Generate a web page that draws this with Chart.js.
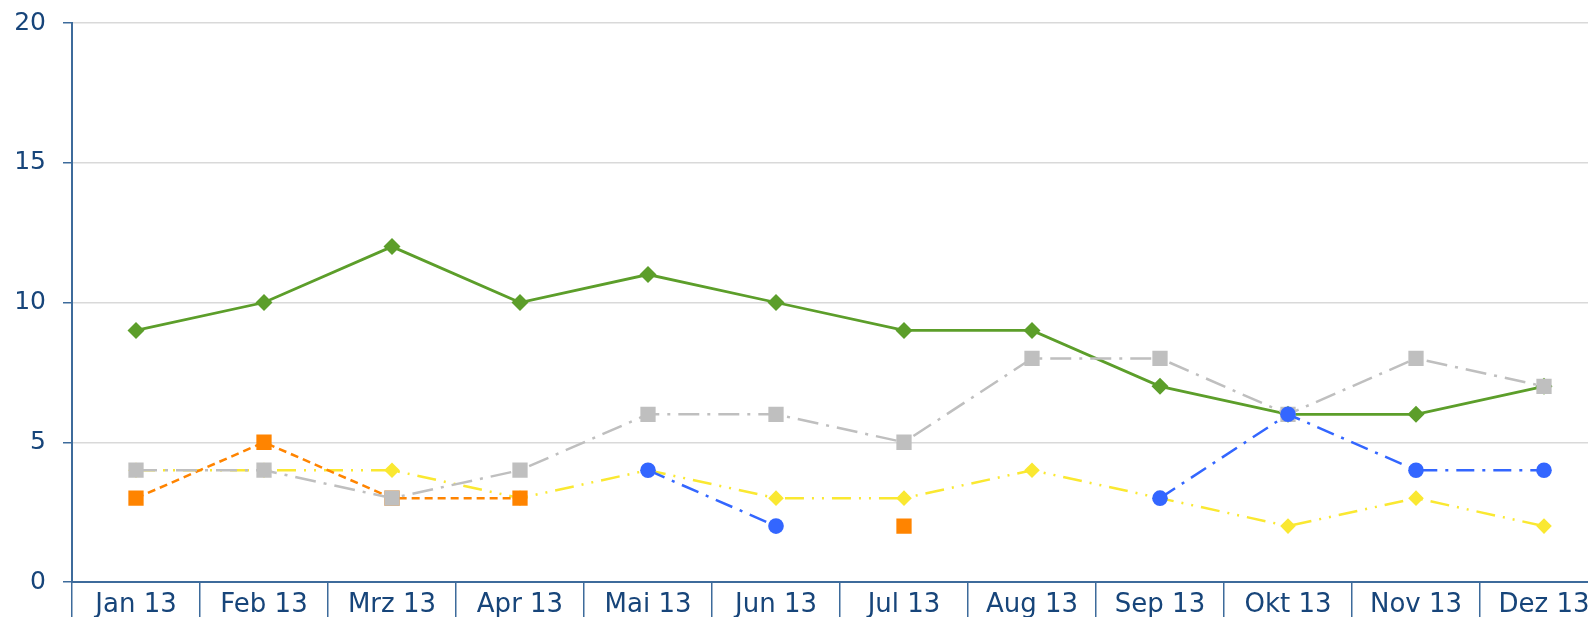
<!DOCTYPE html>
<html>
<head>
<meta charset="utf-8">
<script src="https://cdn.jsdelivr.net/npm/chart.js"></script>
<style>
  html, body { margin: 0; padding: 0; overflow: hidden; background: #fff; }
  #wrap { position: absolute; left: 0; top: 0; width: 1620px; height: 640px; }
</style>
</head>
<body>
<div id="wrap"><canvas id="lineChart"></canvas></div>
<script>
/** Daten */
let monate = ["Jan 13", "Feb 13", "Mrz 13", "Apr 13", "Mai 13", "Jun 13", "Jul 13", "Aug 13", "Sep 13", "Okt 13", "Nov 13", "Dez 13"]
let reihe_gruen = [9, 10, 12, 10, 11, 10, 9, 9, 7, 6, 6, 7]
let reihe_grau = [4, 4, 3, 4, 6, 6, 5, 8, 8, 6, 8, 7]
let reihe_gelb = [4, 4, 4, 3, 4, 3, 3, 4, 3, 2, 3, 2]
let reihe_orange = [3, 5, 3, 3, null, null, 2, null, null, null, null, null]
let reihe_blau = [null, null, null, null, 4, 2, null, null, 3, 6, 4, 4]
let y_ticks = [0, 5, 10, 15, 20]

let achse = "#3d6b9b"
let schrift = "#17457a"

/** Diagramm */
var ctx = document.getElementById("lineChart").getContext('2d');
var lineChart = new Chart(ctx, {
  type: 'line',
  data: {
    labels: monate,
    datasets: [{
      data: reihe_blau,
      borderColor: "#3366ff",
      backgroundColor: "#3366ff",
      borderWidth: 2.5,
      borderDash: [18, 8, 3, 8],
      pointStyle: 'circle',
      pointRadius: 7.8,
      pointBorderWidth: 0
    }, {
      data: reihe_grau,
      borderColor: "#bfbfbf",
      backgroundColor: "#bfbfbf",
      borderWidth: 2.5,
      borderDash: [21, 8, 3, 8],
      pointStyle: 'rect',
      pointRadius: 10.8,
      pointBorderWidth: 0
    }, {
      data: reihe_gruen,
      borderColor: "#5c9e2a",
      backgroundColor: "#5c9e2a",
      borderWidth: 2.8,
      pointStyle: 'rectRot',
      pointRadius: 8.5,
      pointBorderWidth: 0
    }, {
      data: reihe_orange,
      borderColor: "#ff8400",
      backgroundColor: "#ff8400",
      borderWidth: 2.5,
      borderDash: [8, 5],
      pointStyle: 'rect',
      pointRadius: 10.8,
      pointBorderWidth: 0
    }, {
      data: reihe_gelb,
      borderColor: "#fae831",
      backgroundColor: "#fae831",
      borderWidth: 2.5,
      borderDash: [19, 8, 2, 8, 2, 8],
      pointStyle: 'rectRot',
      pointRadius: 7.8,
      pointBorderWidth: 0
    }]
  },
  options: {
    responsive: true,
    maintainAspectRatio: false,
    animation: false,
    layout: { autoPadding: false, padding: { top: 23, right: 12, left: 0, bottom: 0 } },
    plugins: {
      legend: { display: false },
      tooltip: { enabled: false }
    },
    scales: {
      x: {
        offset: true,
        afterFit: function (scale) { scale.height = 58 },
        border: { display: true, color: achse, width: 2 },
        grid: {
          offset: true,
          drawOnChartArea: false,
          drawTicks: true,
          tickLength: 40,
          tickColor: achse,
          lineWidth: 1.5
        },
        ticks: {
          color: schrift,
          padding: -32,
          maxRotation: 0,
          autoSkip: false,
          font: { family: "DejaVu Sans", size: 26 }
        }
      },
      y: {
        min: 0,
        max: 20,
        /** feste Breite, kein Extra-Abstand oben */
        afterFit: function (scale) {
          scale.width = 72
          scale.paddingTop = 0
          scale.paddingBottom = 0
        },
        afterBuildTicks: function (scale) {
          scale.ticks = y_ticks.map(function (v) { return { value: v } })
        },
        border: { display: true, color: achse, width: 2 },
        grid: {
          color: "#d9d9d9",
          lineWidth: 1.5,
          tickColor: achse,
          tickLength: 9
        },
        ticks: {
          color: schrift,
          padding: 17,
          font: { family: "DejaVu Sans", size: 25 }
        }
      }
    }
  }
});
</script>
</body>
</html>
